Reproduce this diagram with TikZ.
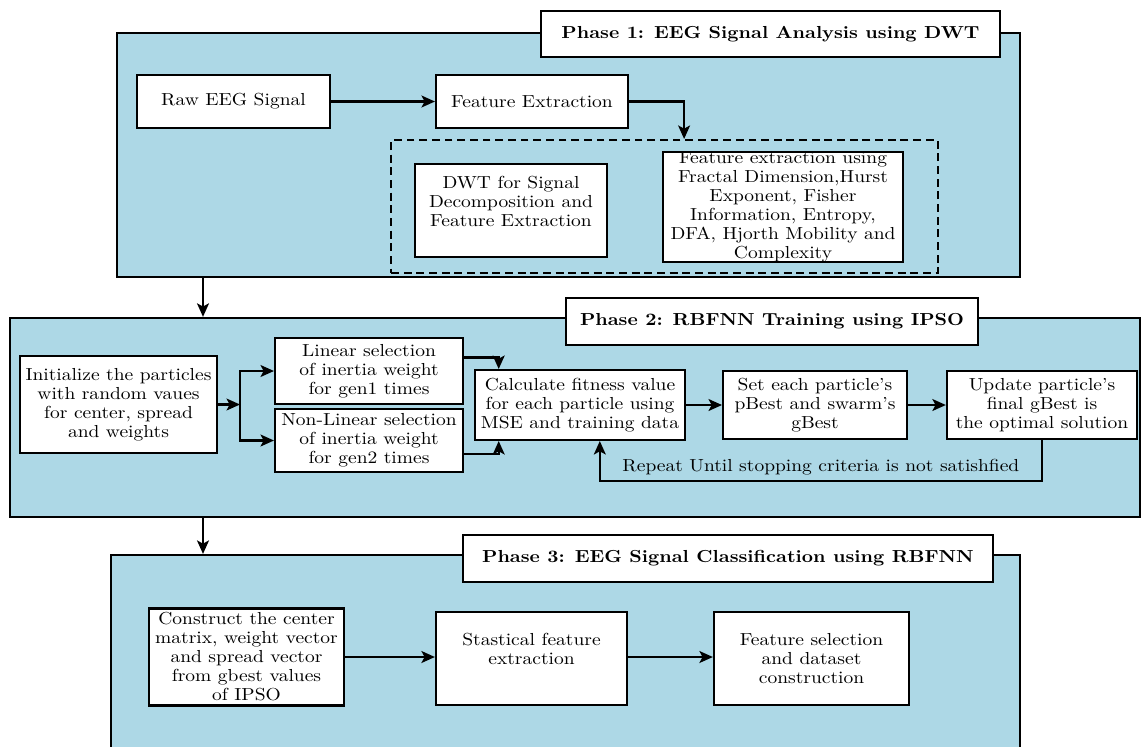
\documentclass[tikz,border=0pt]{standalone}
\usepackage{fontspec}
\setmainfont{Latin Modern Roman}[FakeStretch=1.12]
\usetikzlibrary{arrows.meta,positioning,calc}
\definecolor{phaseblue}{RGB}{173,216,230}

\begin{document}
\begin{tikzpicture}
[x=0.0222cm, y=-0.0222cm, draw=black, line width=1.4pt, >={Stealth[length=8.5pt, width=7.5pt, inset=2pt]},
font=\fontsize{11}{12}\selectfont,
phase/.style={rectangle, draw, fill=phaseblue, inner sep=0pt},
title/.style={rectangle, draw, fill=white, inner sep=0pt, minimum height=1.03cm, font=\fontsize{11}{12}\selectfont\bfseries},
block/.style={rectangle, draw, fill=white, align=center, inner sep=0pt},
group/.style={rectangle, draw, dash pattern=on 5pt off 3pt, inner sep=0pt}]

\useasboundingbox[fill=white] (0,0) rectangle (1142,746);

% phase 1
\node[phase, minimum width=20.05cm, minimum height=5.42cm] (p1) at (568.5,155) {};
\node[title, minimum width=10.19cm] (t1) at (770.5,34) {Phase 1: EEG Signal Analysis using DWT};
\node[block, minimum width=4.28cm, minimum height=1.18cm] (raw) at (233.5,101.5) {Raw EEG Signal};
\node[block, minimum width=4.26cm, minimum height=1.18cm] (featex) at (532,101.5) {Feature Extraction};
\node[group, minimum width=12.14cm, minimum height=2.95cm] (grp) at (664.5,206.5) {};
\node[block, minimum width=4.26cm, minimum height=2.06cm] (dwt) at (511,210.5) {DWT for Signal\\Decomposition and\\Feature Extraction\\ \mbox{}};
\node[block, minimum width=5.33cm, minimum height=2.44cm] (fduse) at (783,207) {Feature extraction using\\Fractal Dimension,Hurst\\Exponent, Fisher\\Information, Entropy,\\DFA, Hjorth Mobility and\\Complexity};

\draw[->] (raw) -- (featex);
\draw[->] (featex.east) -| ([xshift=6.53cm]grp.north west);

% phase 2
\node[phase, minimum width=25.09cm, minimum height=4.42cm] (p2) at (575,417.5) {};
\node[title, minimum width=9.15cm] (t2) at (772,321.5) {Phase 2: RBFNN Training using IPSO};
\node[block, minimum width=4.37cm, minimum height=2.15cm] (init) at (118.5,404.5) {Initialize the particles\\with random vaues\\for center, spread\\and weights};
\node[block, minimum width=4.17cm, minimum height=1.47cm] (lin) at (369,371) {Linear selection\\of inertia weight\\for gen1 times};
\node[block, minimum width=4.17cm, minimum height=1.40cm] (nonlin) at (369,440.5) {Non-Linear selection\\of inertia weight\\for gen2 times};
\node[block, minimum width=4.66cm, minimum height=1.55cm] (calc) at (580,405) {Calculate fitness value\\for each particle using\\MSE and training data};
\node[block, minimum width=4.08cm, minimum height=1.51cm] (pbest) at (815,405) {Set each particle's\\pBest and swarm's\\gBest};
\node[block, minimum width=4.22cm, minimum height=1.51cm] (upd) at (1042,405) {Update particle's\\final gBest is\\the optimal solution};

\coordinate (split) at (240,404.5);
\draw[->] (init.east) -- (split);
\draw[->] (split) |- (lin.west);
\draw[->] (split) |- (nonlin.west);
\draw[->] ([yshift=0.3cm]lin.east) -| ([xshift=0.55cm]calc.north west);
\draw[->] ([yshift=-0.3cm]nonlin.east) -| ([xshift=0.55cm]calc.south west);
\draw[->] (calc) -- (pbest);
\draw[->] (pbest) -- (upd);
\draw[->] (upd.south) -- ++(0,41) -| node[pos=0.25, above=0pt] {Repeat Until stopping criteria is not satishfied} ([xshift=0.44cm]calc.south);

% phase 3
\node[phase, minimum width=20.18cm, minimum height=4.55cm] (p3) at (565.5,657.5) {};
\node[title, minimum width=11.77cm] (t3) at (728,558.5) {Phase 3: EEG Signal Classification using RBFNN};
\node[block, minimum width=4.33cm, minimum height=2.15cm] (cons) at (246.5,657) {Construct the center\\matrix, weight vector\\and spread vector\\from gbest values\\of IPSO};
\node[block, minimum width=4.24cm, minimum height=2.06cm] (stat) at (531.5,658.5) {Stastical feature\\extraction\\ \mbox{}};
\node[block, minimum width=4.33cm, minimum height=2.06cm] (fsel) at (811.5,658.5) {Feature selection\\and dataset\\construction};

\draw[->] (cons.east) -- (cons.east -| stat.west);
\draw[->] (cons.east -| stat.east) -- (cons.east -| fsel.west);

% between phases
\coordinate (down) at (203,0);
\draw[->] (down |- p1.south) -- (down |- p2.north);
\draw[->] (down |- p2.south) -- (down |- p3.north);

\end{tikzpicture}
\end{document}
